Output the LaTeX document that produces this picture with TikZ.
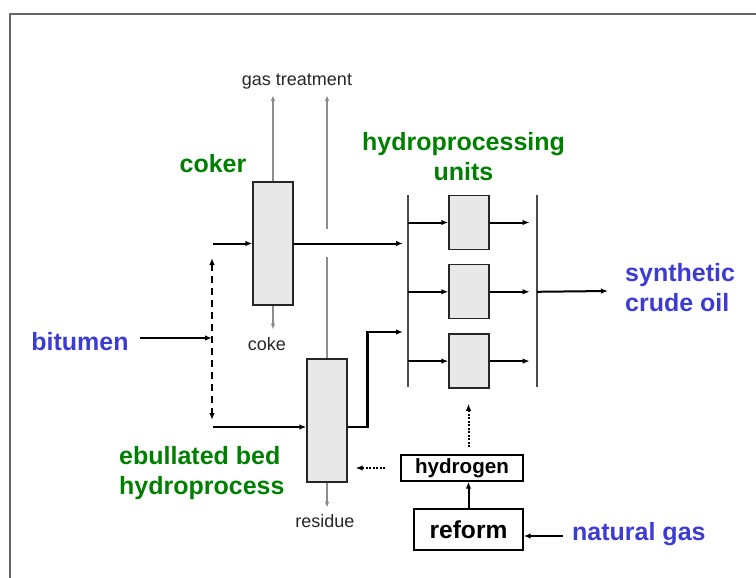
\documentclass[tikz,border=0pt]{standalone}
\usepackage{fontspec}
\setmainfont{Liberation Sans}
\usetikzlibrary{arrows.meta,positioning}

\definecolor{unitgreen}{RGB}{0,128,0}
\definecolor{streamblue}{RGB}{60,60,212}
\definecolor{unitfill}{RGB}{232,232,232}

\begin{document}
\begin{tikzpicture}[x=1pt, y=-1pt, >={Latex[length=7pt,width=5.5pt]}]

    % Styles
    \tikzstyle{vessel} = [rectangle, minimum width=40, minimum height=123, inner sep=0, draw=black!85, fill=unitfill, line width=1.3pt]
    \tikzstyle{reactor} = [vessel, minimum height=54]
    \tikzstyle{plant} = [rectangle, inner sep=0, draw=black, line width=1.3pt]
    \tikzstyle{unitname} = [inner sep=0, text=unitgreen, font=\fontsize{25}{30}\selectfont\bfseries]
    \tikzstyle{stream} = [inner sep=0, text=streamblue, font=\fontsize{25}{30}\selectfont\bfseries]
    \tikzstyle{product} = [inner sep=0, text=black!85, font=\fontsize{18}{20}\selectfont]
    \tikzstyle{arrow} = [line width=2pt, ->]
    \tikzstyle{vent} = [line width=1.3pt, draw=black!45, -{Latex[length=6pt,width=4.5pt]}]
    \tikzstyle{bar} = [line width=1.6pt, draw=black!70]

    \useasboundingbox (0,0) rectangle (756,578);
    \draw [line width=1.8pt, black!60] (756,14) -- (10,14) -- (10,578);

    % Noeuds
    \node (coker) [vessel] at (273,243.5) {};
    \node (ebul) [vessel] at (327,420.5) {};
    \node (hu1) [reactor] at (469,222.5) {};
    \node (hu2) [reactor, below=14pt of hu1] {};
    \node (hu3) [reactor, below=14pt of hu2] {};
    \node (hydrogen) [plant, minimum width=122, minimum height=26, font=\fontsize{20.6}{24}\selectfont\bfseries] at (462,468) {hydrogen};
    \node (reform) [plant, minimum width=109, minimum height=41, font=\fontsize{24.6}{28}\selectfont\bfseries] at (468.5,529.5) {reform};

    \node (cokerlabel) [unitname, anchor=base] at (213,172) {coker};
    \node (hulabel) [unitname, align=center] at (463.5,157) {hydroprocessing\\units};
    \node (ebullabel) [unitname, align=left, anchor=west] at (119,473.5) {ebullated bed\\hydroprocess};
    \node (bitumen) [stream, anchor=base] at (80,350) {bitumen};
    \node (crude) [stream, align=left, anchor=west] at (625,287.4) {synthetic\\crude oil};
    \node (natgas) [stream, anchor=base west] at (572,540) {natural gas};
    \node (gastreat) [product, anchor=base] at (297,85) {gas treatment};
    \node (coke) [product, anchor=base] at (267,350) {coke};
    \node (residue) [product, anchor=base] at (325,527) {residue};

    % Points libres
    \coordinate (cokerin) at (213,243.5);
    \coordinate (cokerout) at (403,243.5);
    \coordinate (gasA) at (273,95);
    \coordinate (gasB) at (327,95);
    \coordinate (gasBfoot) at (327,229);
    \coordinate (quench) at (327,257);
    \coordinate (split) at (212,338);
    \coordinate (dtop) at (212,258);
    \coordinate (dbot) at (212,420);
    \coordinate (ebulin) at (213,427);
    \coordinate (ebulout) at (403,332);
    \coordinate (barLtop) at (408,195);
    \coordinate (barLbot) at (408,387);
    \coordinate (barRtop) at (537,195);
    \coordinate (barRbot) at (537,387);
    \coordinate (scoend) at (608,291);
    \coordinate (ngin) at (563,536);

    % Fleches
    \draw [arrow] (cokerin) -- (coker.west);
    \draw [arrow] (coker.east) -- (cokerout);
    \draw [vent] (coker.north) -- (gasA);
    \draw [vent] (gasBfoot) -- (gasB);
    \draw [vent] (coker.south) -- ++(0,24);
    \draw [vent, -] (quench) -- (ebul.north);
    \draw [vent] (ebul.south) -- ++(0,25);
    \draw [arrow] ([xshift=11pt]bitumen.east |- split) -- (split);
    \draw [arrow, <->, dash pattern=on 7pt off 5pt] (dtop) -- (dbot);
    \draw [arrow] (ebulin) -- (ebulin -| ebul.west);
    \draw [arrow, line width=2.8pt] (ebulin -| ebul.east) -- ++(20,0) |- (ebulout);

    \draw [bar] (barLtop) -- (barLbot);
    \draw [bar] (barRtop) -- (barRbot);
    \draw [arrow] (barLtop |- hu1) -- (hu1.west);
    \draw [arrow] (barLtop |- hu2) -- (hu2.west);
    \draw [arrow] (barLtop |- hu3) -- (hu3.west);
    \draw [arrow] (hu1.east) -- ++(40,0);
    \draw [arrow] (hu2.east) -- ++(40,0);
    \draw [arrow] (hu3.east) -- ++(40,0);
    \draw [arrow] (barRtop |- hu2) -- (scoend);

    \draw [arrow, dash pattern=on 2pt off 1.5pt, shorten >=8pt] ([xshift=-15pt]hydrogen.west) -- (hydrogen.west -| ebul.east);
    \draw [arrow, dash pattern=on 2pt off 1.5pt, shorten <=7pt, shorten >=15pt] (reform.north |- hydrogen.north) -- (reform.north |- hu3.south);
    \draw [arrow] (reform.north) -- (reform.north |- hydrogen.south);
    \draw [arrow] (ngin) -- (ngin -| reform.east);

\end{tikzpicture}
\end{document}
